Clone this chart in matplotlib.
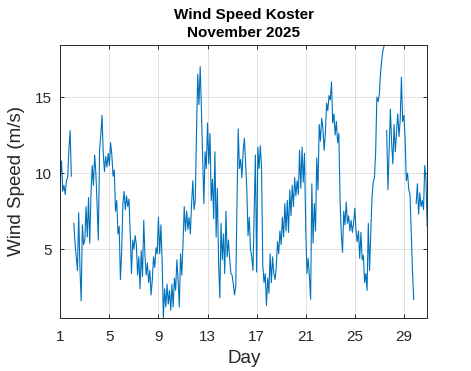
import numpy as np
import matplotlib
matplotlib.use('Agg')
import matplotlib.pyplot as plt

plt.rcParams['font.family'] = ['Liberation Sans', 'DejaVu Sans']

# time axis: day of November 2025, one reading every 0.1 day
day = np.round(np.arange(1.0, 30.95, 0.1), 1)

# wind speed (m/s), ten readings per day (nan = missing)
nan = np.nan
speed = [
    9.6, 10.8, 8.8, 9.2, 8.6, 9.5, 9.7, 11.5, 12.8, 9.8,      # 1
    nan, 6.7, 5.4, 4.5, 3.6, 7.4, 3.8, 1.6, 6.6, 5.3,         # 2
    5.6, 7.8, 5.8, 8.4, 5.4, 8.6, 10.5, 9.2, 11.2, 10.0,      # 3
    7.9, 5.6, 11.5, 12.5, 13.8, 11.3, 10.1, 11.1, 10.4, 11.3, # 4
    10.5, 12.0, 11.2, 9.8, 10.2, 7.5, 8.2, 6.0, 6.5, 3.0,     # 5
    4.8, 8.0, 8.8, 7.6, 8.5, 7.8, 8.3, 6.0, 3.4, 5.6,         # 6
    5.0, 5.9, 5.3, 3.3, 4.5, 2.4, 4.9, 3.2, 6.9, 4.6,         # 7
    3.3, 4.1, 2.8, 3.6, 2.0, 3.0, 4.5, 3.8, 5.1, 4.7,         # 8
    7.1, 4.7, 6.6, 4.2, 0.5, 2.4, 1.2, 2.7, 1.4, 2.3,         # 9
    1.0, 2.7, 1.2, 3.1, 2.3, 4.3, 3.0, 1.2, 4.7, 3.3,         # 10
    5.4, 7.8, 6.2, 7.5, 6.3, 7.1, 6.0, 8.0, 9.5, 7.6,         # 11
    8.2, 12.7, 16.5, 14.5, 17.0, 14.2, 11.0, 8.0, 11.4, 10.3, # 12
    13.3, 10.6, 12.6, 8.2, 9.6, 7.0, 11.4, 5.8, 9.0, 4.1,     # 13
    1.8, 6.7, 4.3, 6.0, 3.4, 7.5, 4.5, 5.6, 4.4, 3.4,         # 14
    3.3, 2.7, 2.0, 2.6, 8.0, 12.9, 10.3, 10.9, 9.7, 11.4,     # 15
    12.3, 10.7, 8.9, 5.9, 7.1, 5.0, 4.5, 3.6, 7.5, 11.2,      # 16
    3.5, 11.7, 10.3, 11.8, 10.4, 4.0, 2.8, 3.4, 1.3, 3.1,     # 17
    2.1, 4.7, 2.8, 4.5, 3.4, 3.0, 3.8, 5.5, 4.7, 6.2,         # 18
    5.3, 7.1, 5.8, 8.0, 6.2, 8.2, 6.1, 8.9, 7.2, 9.2,         # 19
    7.8, 9.7, 8.5, 9.5, 8.6, 11.5, 9.0, 11.7, 9.4, 11.3,      # 20
    6.5, 3.4, 4.4, 3.2, 1.7, 9.3, 5.4, 8.0, 6.2, 11.0,        # 21
    8.9, 13.2, 12.1, 13.6, 13.0, 11.5, 12.6, 14.6, 14.1, 15.1,# 22
    14.8, 16.0, 13.3, 13.9, 12.5, 13.4, 12.0, 12.6, 8.2, 6.0, # 23
    4.8, 7.5, 6.6, 8.1, 6.7, 7.2, 6.2, 6.9, 6.1, 6.7,         # 24
    7.7, 6.2, 5.5, 6.2, 4.4, 6.1, 4.3, 4.6, 2.8, 3.4,         # 25
    2.3, 6.7, 3.6, 6.0, 8.4, 9.4, 9.7, 11.4, 15.0, 14.7,      # 26
    15.2, 16.6, 17.5, 18.1, 18.4, nan, 12.8, 8.9, 11.5, 14.2, # 27
    12.0, 10.6, 13.2, 11.4, 12.6, 13.9, 12.4, 13.5, 16.3, 13.4,  # 28
    13.8, 12.3, 9.5, 10.0, 8.9, 8.6, 6.0, 3.6, 1.7, nan,      # 29
    8.0, 9.3, 7.3, 8.7, 7.8, 8.2, 7.6, 10.5, 9.6, 6.5,        # 30
]

xticks = [1, 5, 9, 13, 17, 21, 25, 29]
yticks = [5, 10, 15]

dark = '#262626'

fig = plt.figure(figsize=(4.71, 3.71), dpi=100)
ax = fig.add_axes([0.128, 0.1437, 0.779, 0.7342])

ax.plot(day, speed, color='#0072BD', linewidth=0.8)

# tight limits like matlab's axis tight
ax.set_xlim(day[0], day[-1])
ax.set_ylim(np.nanmin(speed), np.nanmax(speed))
ax.set_xticks(xticks)
ax.set_yticks(yticks)

ax.grid(True, color=dark, alpha=0.13, linewidth=0.7)
ax.set_axisbelow(True)
for s in ax.spines.values():
    s.set_color(dark)
    s.set_linewidth(0.7)
ax.tick_params(direction='in', top=True, right=True, length=3, width=0.7,
               colors=dark, labelsize=11)
ax.tick_params(axis='x', pad=9)
ax.tick_params(axis='y', pad=6)

ax.set_title('Wind Speed Koster\nNovember 2025', fontsize=11, fontweight='bold',
             color='black', pad=6, linespacing=1.35)
ax.set_xlabel('Day', fontsize=13.5, color=dark, labelpad=4)
ax.set_ylabel('Wind Speed (m/s)', fontsize=13.5, color=dark, labelpad=7)

fig.savefig('out.png', dpi=100)
